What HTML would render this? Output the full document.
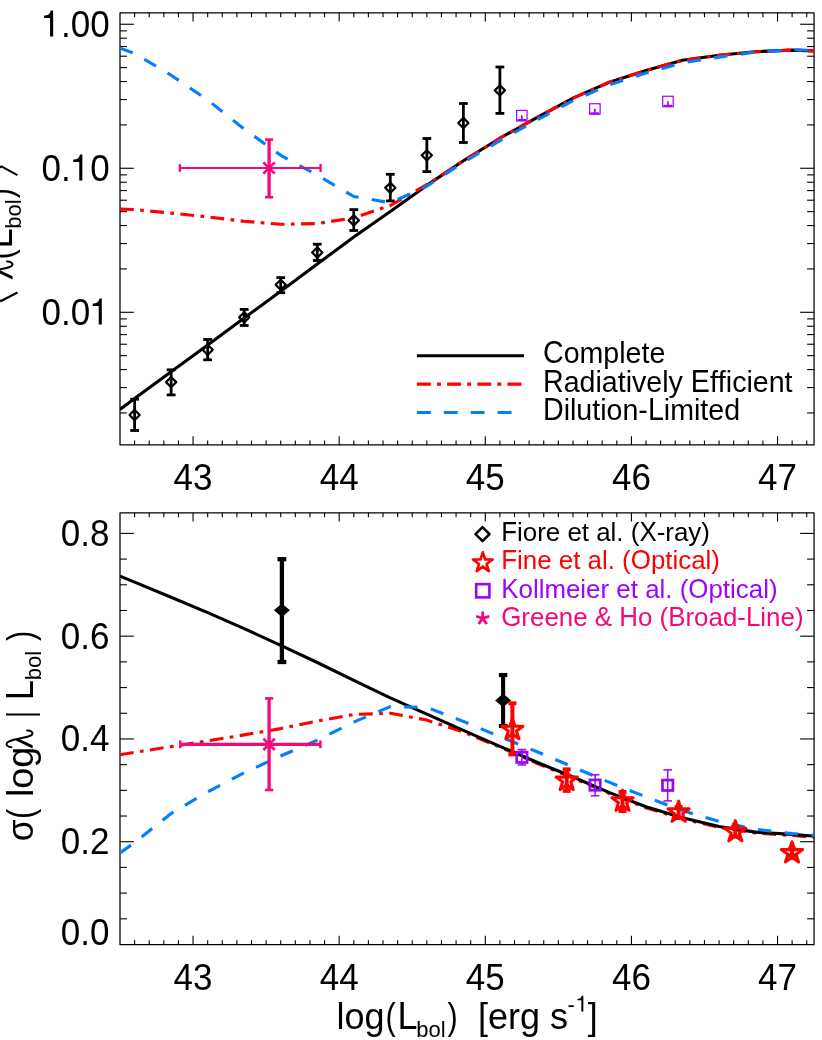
<!DOCTYPE html>
<html><head><meta charset="utf-8"><title>chart</title>
<style>
html,body{margin:0;padding:0;background:#fff;}
body{width:822px;height:1040px;overflow:hidden;font-family:"Liberation Sans",sans-serif;}
svg{display:block;will-change:transform;}
</style></head><body>
<svg width="822" height="1040" viewBox="0 0 822 1040">
<rect x="0" y="0" width="822" height="1040" fill="#fff"/>
<rect x="120.0" y="12.85" width="694.05" height="432.05" fill="none" stroke="#000" stroke-width="1.25" stroke-linejoin="round"/>
<line x1="134.61" y1="12.85" x2="134.61" y2="17.20" stroke="#000" stroke-width="1.1" />
<line x1="134.61" y1="444.90" x2="134.61" y2="440.55" stroke="#000" stroke-width="1.1" />
<line x1="149.22" y1="12.85" x2="149.22" y2="17.20" stroke="#000" stroke-width="1.1" />
<line x1="149.22" y1="444.90" x2="149.22" y2="440.55" stroke="#000" stroke-width="1.1" />
<line x1="163.83" y1="12.85" x2="163.83" y2="17.20" stroke="#000" stroke-width="1.1" />
<line x1="163.83" y1="444.90" x2="163.83" y2="440.55" stroke="#000" stroke-width="1.1" />
<line x1="178.45" y1="12.85" x2="178.45" y2="17.20" stroke="#000" stroke-width="1.1" />
<line x1="178.45" y1="444.90" x2="178.45" y2="440.55" stroke="#000" stroke-width="1.1" />
<line x1="193.06" y1="12.85" x2="193.06" y2="21.55" stroke="#000" stroke-width="1.1" />
<line x1="193.06" y1="444.90" x2="193.06" y2="436.20" stroke="#000" stroke-width="1.1" />
<line x1="207.67" y1="12.85" x2="207.67" y2="17.20" stroke="#000" stroke-width="1.1" />
<line x1="207.67" y1="444.90" x2="207.67" y2="440.55" stroke="#000" stroke-width="1.1" />
<line x1="222.28" y1="12.85" x2="222.28" y2="17.20" stroke="#000" stroke-width="1.1" />
<line x1="222.28" y1="444.90" x2="222.28" y2="440.55" stroke="#000" stroke-width="1.1" />
<line x1="236.89" y1="12.85" x2="236.89" y2="17.20" stroke="#000" stroke-width="1.1" />
<line x1="236.89" y1="444.90" x2="236.89" y2="440.55" stroke="#000" stroke-width="1.1" />
<line x1="251.50" y1="12.85" x2="251.50" y2="17.20" stroke="#000" stroke-width="1.1" />
<line x1="251.50" y1="444.90" x2="251.50" y2="440.55" stroke="#000" stroke-width="1.1" />
<line x1="266.12" y1="12.85" x2="266.12" y2="17.20" stroke="#000" stroke-width="1.1" />
<line x1="266.12" y1="444.90" x2="266.12" y2="440.55" stroke="#000" stroke-width="1.1" />
<line x1="280.73" y1="12.85" x2="280.73" y2="17.20" stroke="#000" stroke-width="1.1" />
<line x1="280.73" y1="444.90" x2="280.73" y2="440.55" stroke="#000" stroke-width="1.1" />
<line x1="295.34" y1="12.85" x2="295.34" y2="17.20" stroke="#000" stroke-width="1.1" />
<line x1="295.34" y1="444.90" x2="295.34" y2="440.55" stroke="#000" stroke-width="1.1" />
<line x1="309.95" y1="12.85" x2="309.95" y2="17.20" stroke="#000" stroke-width="1.1" />
<line x1="309.95" y1="444.90" x2="309.95" y2="440.55" stroke="#000" stroke-width="1.1" />
<line x1="324.56" y1="12.85" x2="324.56" y2="17.20" stroke="#000" stroke-width="1.1" />
<line x1="324.56" y1="444.90" x2="324.56" y2="440.55" stroke="#000" stroke-width="1.1" />
<line x1="339.17" y1="12.85" x2="339.17" y2="21.55" stroke="#000" stroke-width="1.1" />
<line x1="339.17" y1="444.90" x2="339.17" y2="436.20" stroke="#000" stroke-width="1.1" />
<line x1="353.79" y1="12.85" x2="353.79" y2="17.20" stroke="#000" stroke-width="1.1" />
<line x1="353.79" y1="444.90" x2="353.79" y2="440.55" stroke="#000" stroke-width="1.1" />
<line x1="368.40" y1="12.85" x2="368.40" y2="17.20" stroke="#000" stroke-width="1.1" />
<line x1="368.40" y1="444.90" x2="368.40" y2="440.55" stroke="#000" stroke-width="1.1" />
<line x1="383.01" y1="12.85" x2="383.01" y2="17.20" stroke="#000" stroke-width="1.1" />
<line x1="383.01" y1="444.90" x2="383.01" y2="440.55" stroke="#000" stroke-width="1.1" />
<line x1="397.62" y1="12.85" x2="397.62" y2="17.20" stroke="#000" stroke-width="1.1" />
<line x1="397.62" y1="444.90" x2="397.62" y2="440.55" stroke="#000" stroke-width="1.1" />
<line x1="412.23" y1="12.85" x2="412.23" y2="17.20" stroke="#000" stroke-width="1.1" />
<line x1="412.23" y1="444.90" x2="412.23" y2="440.55" stroke="#000" stroke-width="1.1" />
<line x1="426.84" y1="12.85" x2="426.84" y2="17.20" stroke="#000" stroke-width="1.1" />
<line x1="426.84" y1="444.90" x2="426.84" y2="440.55" stroke="#000" stroke-width="1.1" />
<line x1="441.45" y1="12.85" x2="441.45" y2="17.20" stroke="#000" stroke-width="1.1" />
<line x1="441.45" y1="444.90" x2="441.45" y2="440.55" stroke="#000" stroke-width="1.1" />
<line x1="456.07" y1="12.85" x2="456.07" y2="17.20" stroke="#000" stroke-width="1.1" />
<line x1="456.07" y1="444.90" x2="456.07" y2="440.55" stroke="#000" stroke-width="1.1" />
<line x1="470.68" y1="12.85" x2="470.68" y2="17.20" stroke="#000" stroke-width="1.1" />
<line x1="470.68" y1="444.90" x2="470.68" y2="440.55" stroke="#000" stroke-width="1.1" />
<line x1="485.29" y1="12.85" x2="485.29" y2="21.55" stroke="#000" stroke-width="1.1" />
<line x1="485.29" y1="444.90" x2="485.29" y2="436.20" stroke="#000" stroke-width="1.1" />
<line x1="499.90" y1="12.85" x2="499.90" y2="17.20" stroke="#000" stroke-width="1.1" />
<line x1="499.90" y1="444.90" x2="499.90" y2="440.55" stroke="#000" stroke-width="1.1" />
<line x1="514.51" y1="12.85" x2="514.51" y2="17.20" stroke="#000" stroke-width="1.1" />
<line x1="514.51" y1="444.90" x2="514.51" y2="440.55" stroke="#000" stroke-width="1.1" />
<line x1="529.12" y1="12.85" x2="529.12" y2="17.20" stroke="#000" stroke-width="1.1" />
<line x1="529.12" y1="444.90" x2="529.12" y2="440.55" stroke="#000" stroke-width="1.1" />
<line x1="543.74" y1="12.85" x2="543.74" y2="17.20" stroke="#000" stroke-width="1.1" />
<line x1="543.74" y1="444.90" x2="543.74" y2="440.55" stroke="#000" stroke-width="1.1" />
<line x1="558.35" y1="12.85" x2="558.35" y2="17.20" stroke="#000" stroke-width="1.1" />
<line x1="558.35" y1="444.90" x2="558.35" y2="440.55" stroke="#000" stroke-width="1.1" />
<line x1="572.96" y1="12.85" x2="572.96" y2="17.20" stroke="#000" stroke-width="1.1" />
<line x1="572.96" y1="444.90" x2="572.96" y2="440.55" stroke="#000" stroke-width="1.1" />
<line x1="587.57" y1="12.85" x2="587.57" y2="17.20" stroke="#000" stroke-width="1.1" />
<line x1="587.57" y1="444.90" x2="587.57" y2="440.55" stroke="#000" stroke-width="1.1" />
<line x1="602.18" y1="12.85" x2="602.18" y2="17.20" stroke="#000" stroke-width="1.1" />
<line x1="602.18" y1="444.90" x2="602.18" y2="440.55" stroke="#000" stroke-width="1.1" />
<line x1="616.79" y1="12.85" x2="616.79" y2="17.20" stroke="#000" stroke-width="1.1" />
<line x1="616.79" y1="444.90" x2="616.79" y2="440.55" stroke="#000" stroke-width="1.1" />
<line x1="631.41" y1="12.85" x2="631.41" y2="21.55" stroke="#000" stroke-width="1.1" />
<line x1="631.41" y1="444.90" x2="631.41" y2="436.20" stroke="#000" stroke-width="1.1" />
<line x1="646.02" y1="12.85" x2="646.02" y2="17.20" stroke="#000" stroke-width="1.1" />
<line x1="646.02" y1="444.90" x2="646.02" y2="440.55" stroke="#000" stroke-width="1.1" />
<line x1="660.63" y1="12.85" x2="660.63" y2="17.20" stroke="#000" stroke-width="1.1" />
<line x1="660.63" y1="444.90" x2="660.63" y2="440.55" stroke="#000" stroke-width="1.1" />
<line x1="675.24" y1="12.85" x2="675.24" y2="17.20" stroke="#000" stroke-width="1.1" />
<line x1="675.24" y1="444.90" x2="675.24" y2="440.55" stroke="#000" stroke-width="1.1" />
<line x1="689.85" y1="12.85" x2="689.85" y2="17.20" stroke="#000" stroke-width="1.1" />
<line x1="689.85" y1="444.90" x2="689.85" y2="440.55" stroke="#000" stroke-width="1.1" />
<line x1="704.46" y1="12.85" x2="704.46" y2="17.20" stroke="#000" stroke-width="1.1" />
<line x1="704.46" y1="444.90" x2="704.46" y2="440.55" stroke="#000" stroke-width="1.1" />
<line x1="719.07" y1="12.85" x2="719.07" y2="17.20" stroke="#000" stroke-width="1.1" />
<line x1="719.07" y1="444.90" x2="719.07" y2="440.55" stroke="#000" stroke-width="1.1" />
<line x1="733.69" y1="12.85" x2="733.69" y2="17.20" stroke="#000" stroke-width="1.1" />
<line x1="733.69" y1="444.90" x2="733.69" y2="440.55" stroke="#000" stroke-width="1.1" />
<line x1="748.30" y1="12.85" x2="748.30" y2="17.20" stroke="#000" stroke-width="1.1" />
<line x1="748.30" y1="444.90" x2="748.30" y2="440.55" stroke="#000" stroke-width="1.1" />
<line x1="762.91" y1="12.85" x2="762.91" y2="17.20" stroke="#000" stroke-width="1.1" />
<line x1="762.91" y1="444.90" x2="762.91" y2="440.55" stroke="#000" stroke-width="1.1" />
<line x1="777.52" y1="12.85" x2="777.52" y2="21.55" stroke="#000" stroke-width="1.1" />
<line x1="777.52" y1="444.90" x2="777.52" y2="436.20" stroke="#000" stroke-width="1.1" />
<line x1="792.13" y1="12.85" x2="792.13" y2="17.20" stroke="#000" stroke-width="1.1" />
<line x1="792.13" y1="444.90" x2="792.13" y2="440.55" stroke="#000" stroke-width="1.1" />
<line x1="806.74" y1="12.85" x2="806.74" y2="17.20" stroke="#000" stroke-width="1.1" />
<line x1="806.74" y1="444.90" x2="806.74" y2="440.55" stroke="#000" stroke-width="1.1" />
<line x1="120.00" y1="24.25" x2="133.90" y2="24.25" stroke="#000" stroke-width="1.1" />
<line x1="814.05" y1="24.25" x2="800.15" y2="24.25" stroke="#000" stroke-width="1.1" />
<line x1="120.00" y1="168.27" x2="133.90" y2="168.27" stroke="#000" stroke-width="1.1" />
<line x1="814.05" y1="168.27" x2="800.15" y2="168.27" stroke="#000" stroke-width="1.1" />
<line x1="120.00" y1="124.92" x2="126.95" y2="124.92" stroke="#000" stroke-width="1.1" />
<line x1="814.05" y1="124.92" x2="807.10" y2="124.92" stroke="#000" stroke-width="1.1" />
<line x1="120.00" y1="99.56" x2="126.95" y2="99.56" stroke="#000" stroke-width="1.1" />
<line x1="814.05" y1="99.56" x2="807.10" y2="99.56" stroke="#000" stroke-width="1.1" />
<line x1="120.00" y1="81.56" x2="126.95" y2="81.56" stroke="#000" stroke-width="1.1" />
<line x1="814.05" y1="81.56" x2="807.10" y2="81.56" stroke="#000" stroke-width="1.1" />
<line x1="120.00" y1="67.61" x2="126.95" y2="67.61" stroke="#000" stroke-width="1.1" />
<line x1="814.05" y1="67.61" x2="807.10" y2="67.61" stroke="#000" stroke-width="1.1" />
<line x1="120.00" y1="56.20" x2="126.95" y2="56.20" stroke="#000" stroke-width="1.1" />
<line x1="814.05" y1="56.20" x2="807.10" y2="56.20" stroke="#000" stroke-width="1.1" />
<line x1="120.00" y1="46.56" x2="126.95" y2="46.56" stroke="#000" stroke-width="1.1" />
<line x1="814.05" y1="46.56" x2="807.10" y2="46.56" stroke="#000" stroke-width="1.1" />
<line x1="120.00" y1="38.21" x2="126.95" y2="38.21" stroke="#000" stroke-width="1.1" />
<line x1="814.05" y1="38.21" x2="807.10" y2="38.21" stroke="#000" stroke-width="1.1" />
<line x1="120.00" y1="30.84" x2="126.95" y2="30.84" stroke="#000" stroke-width="1.1" />
<line x1="814.05" y1="30.84" x2="807.10" y2="30.84" stroke="#000" stroke-width="1.1" />
<line x1="120.00" y1="312.29" x2="133.90" y2="312.29" stroke="#000" stroke-width="1.1" />
<line x1="814.05" y1="312.29" x2="800.15" y2="312.29" stroke="#000" stroke-width="1.1" />
<line x1="120.00" y1="268.93" x2="126.95" y2="268.93" stroke="#000" stroke-width="1.1" />
<line x1="814.05" y1="268.93" x2="807.10" y2="268.93" stroke="#000" stroke-width="1.1" />
<line x1="120.00" y1="243.57" x2="126.95" y2="243.57" stroke="#000" stroke-width="1.1" />
<line x1="814.05" y1="243.57" x2="807.10" y2="243.57" stroke="#000" stroke-width="1.1" />
<line x1="120.00" y1="225.58" x2="126.95" y2="225.58" stroke="#000" stroke-width="1.1" />
<line x1="814.05" y1="225.58" x2="807.10" y2="225.58" stroke="#000" stroke-width="1.1" />
<line x1="120.00" y1="211.62" x2="126.95" y2="211.62" stroke="#000" stroke-width="1.1" />
<line x1="814.05" y1="211.62" x2="807.10" y2="211.62" stroke="#000" stroke-width="1.1" />
<line x1="120.00" y1="200.22" x2="126.95" y2="200.22" stroke="#000" stroke-width="1.1" />
<line x1="814.05" y1="200.22" x2="807.10" y2="200.22" stroke="#000" stroke-width="1.1" />
<line x1="120.00" y1="190.58" x2="126.95" y2="190.58" stroke="#000" stroke-width="1.1" />
<line x1="814.05" y1="190.58" x2="807.10" y2="190.58" stroke="#000" stroke-width="1.1" />
<line x1="120.00" y1="182.23" x2="126.95" y2="182.23" stroke="#000" stroke-width="1.1" />
<line x1="814.05" y1="182.23" x2="807.10" y2="182.23" stroke="#000" stroke-width="1.1" />
<line x1="120.00" y1="174.86" x2="126.95" y2="174.86" stroke="#000" stroke-width="1.1" />
<line x1="814.05" y1="174.86" x2="807.10" y2="174.86" stroke="#000" stroke-width="1.1" />
<line x1="120.00" y1="412.95" x2="126.95" y2="412.95" stroke="#000" stroke-width="1.1" />
<line x1="814.05" y1="412.95" x2="807.10" y2="412.95" stroke="#000" stroke-width="1.1" />
<line x1="120.00" y1="387.59" x2="126.95" y2="387.59" stroke="#000" stroke-width="1.1" />
<line x1="814.05" y1="387.59" x2="807.10" y2="387.59" stroke="#000" stroke-width="1.1" />
<line x1="120.00" y1="369.60" x2="126.95" y2="369.60" stroke="#000" stroke-width="1.1" />
<line x1="814.05" y1="369.60" x2="807.10" y2="369.60" stroke="#000" stroke-width="1.1" />
<line x1="120.00" y1="355.64" x2="126.95" y2="355.64" stroke="#000" stroke-width="1.1" />
<line x1="814.05" y1="355.64" x2="807.10" y2="355.64" stroke="#000" stroke-width="1.1" />
<line x1="120.00" y1="344.24" x2="126.95" y2="344.24" stroke="#000" stroke-width="1.1" />
<line x1="814.05" y1="344.24" x2="807.10" y2="344.24" stroke="#000" stroke-width="1.1" />
<line x1="120.00" y1="334.60" x2="126.95" y2="334.60" stroke="#000" stroke-width="1.1" />
<line x1="814.05" y1="334.60" x2="807.10" y2="334.60" stroke="#000" stroke-width="1.1" />
<line x1="120.00" y1="326.24" x2="126.95" y2="326.24" stroke="#000" stroke-width="1.1" />
<line x1="814.05" y1="326.24" x2="807.10" y2="326.24" stroke="#000" stroke-width="1.1" />
<line x1="120.00" y1="318.88" x2="126.95" y2="318.88" stroke="#000" stroke-width="1.1" />
<line x1="814.05" y1="318.88" x2="807.10" y2="318.88" stroke="#000" stroke-width="1.1" />
<rect x="120.0" y="512.85" width="694.05" height="431.65" fill="none" stroke="#000" stroke-width="1.25" stroke-linejoin="round"/>
<line x1="134.61" y1="512.85" x2="134.61" y2="517.20" stroke="#000" stroke-width="1.1" />
<line x1="134.61" y1="944.50" x2="134.61" y2="940.15" stroke="#000" stroke-width="1.1" />
<line x1="149.22" y1="512.85" x2="149.22" y2="517.20" stroke="#000" stroke-width="1.1" />
<line x1="149.22" y1="944.50" x2="149.22" y2="940.15" stroke="#000" stroke-width="1.1" />
<line x1="163.83" y1="512.85" x2="163.83" y2="517.20" stroke="#000" stroke-width="1.1" />
<line x1="163.83" y1="944.50" x2="163.83" y2="940.15" stroke="#000" stroke-width="1.1" />
<line x1="178.45" y1="512.85" x2="178.45" y2="517.20" stroke="#000" stroke-width="1.1" />
<line x1="178.45" y1="944.50" x2="178.45" y2="940.15" stroke="#000" stroke-width="1.1" />
<line x1="193.06" y1="512.85" x2="193.06" y2="521.55" stroke="#000" stroke-width="1.1" />
<line x1="193.06" y1="944.50" x2="193.06" y2="935.80" stroke="#000" stroke-width="1.1" />
<line x1="207.67" y1="512.85" x2="207.67" y2="517.20" stroke="#000" stroke-width="1.1" />
<line x1="207.67" y1="944.50" x2="207.67" y2="940.15" stroke="#000" stroke-width="1.1" />
<line x1="222.28" y1="512.85" x2="222.28" y2="517.20" stroke="#000" stroke-width="1.1" />
<line x1="222.28" y1="944.50" x2="222.28" y2="940.15" stroke="#000" stroke-width="1.1" />
<line x1="236.89" y1="512.85" x2="236.89" y2="517.20" stroke="#000" stroke-width="1.1" />
<line x1="236.89" y1="944.50" x2="236.89" y2="940.15" stroke="#000" stroke-width="1.1" />
<line x1="251.50" y1="512.85" x2="251.50" y2="517.20" stroke="#000" stroke-width="1.1" />
<line x1="251.50" y1="944.50" x2="251.50" y2="940.15" stroke="#000" stroke-width="1.1" />
<line x1="266.12" y1="512.85" x2="266.12" y2="517.20" stroke="#000" stroke-width="1.1" />
<line x1="266.12" y1="944.50" x2="266.12" y2="940.15" stroke="#000" stroke-width="1.1" />
<line x1="280.73" y1="512.85" x2="280.73" y2="517.20" stroke="#000" stroke-width="1.1" />
<line x1="280.73" y1="944.50" x2="280.73" y2="940.15" stroke="#000" stroke-width="1.1" />
<line x1="295.34" y1="512.85" x2="295.34" y2="517.20" stroke="#000" stroke-width="1.1" />
<line x1="295.34" y1="944.50" x2="295.34" y2="940.15" stroke="#000" stroke-width="1.1" />
<line x1="309.95" y1="512.85" x2="309.95" y2="517.20" stroke="#000" stroke-width="1.1" />
<line x1="309.95" y1="944.50" x2="309.95" y2="940.15" stroke="#000" stroke-width="1.1" />
<line x1="324.56" y1="512.85" x2="324.56" y2="517.20" stroke="#000" stroke-width="1.1" />
<line x1="324.56" y1="944.50" x2="324.56" y2="940.15" stroke="#000" stroke-width="1.1" />
<line x1="339.17" y1="512.85" x2="339.17" y2="521.55" stroke="#000" stroke-width="1.1" />
<line x1="339.17" y1="944.50" x2="339.17" y2="935.80" stroke="#000" stroke-width="1.1" />
<line x1="353.79" y1="512.85" x2="353.79" y2="517.20" stroke="#000" stroke-width="1.1" />
<line x1="353.79" y1="944.50" x2="353.79" y2="940.15" stroke="#000" stroke-width="1.1" />
<line x1="368.40" y1="512.85" x2="368.40" y2="517.20" stroke="#000" stroke-width="1.1" />
<line x1="368.40" y1="944.50" x2="368.40" y2="940.15" stroke="#000" stroke-width="1.1" />
<line x1="383.01" y1="512.85" x2="383.01" y2="517.20" stroke="#000" stroke-width="1.1" />
<line x1="383.01" y1="944.50" x2="383.01" y2="940.15" stroke="#000" stroke-width="1.1" />
<line x1="397.62" y1="512.85" x2="397.62" y2="517.20" stroke="#000" stroke-width="1.1" />
<line x1="397.62" y1="944.50" x2="397.62" y2="940.15" stroke="#000" stroke-width="1.1" />
<line x1="412.23" y1="512.85" x2="412.23" y2="517.20" stroke="#000" stroke-width="1.1" />
<line x1="412.23" y1="944.50" x2="412.23" y2="940.15" stroke="#000" stroke-width="1.1" />
<line x1="426.84" y1="512.85" x2="426.84" y2="517.20" stroke="#000" stroke-width="1.1" />
<line x1="426.84" y1="944.50" x2="426.84" y2="940.15" stroke="#000" stroke-width="1.1" />
<line x1="441.45" y1="512.85" x2="441.45" y2="517.20" stroke="#000" stroke-width="1.1" />
<line x1="441.45" y1="944.50" x2="441.45" y2="940.15" stroke="#000" stroke-width="1.1" />
<line x1="456.07" y1="512.85" x2="456.07" y2="517.20" stroke="#000" stroke-width="1.1" />
<line x1="456.07" y1="944.50" x2="456.07" y2="940.15" stroke="#000" stroke-width="1.1" />
<line x1="470.68" y1="512.85" x2="470.68" y2="517.20" stroke="#000" stroke-width="1.1" />
<line x1="470.68" y1="944.50" x2="470.68" y2="940.15" stroke="#000" stroke-width="1.1" />
<line x1="485.29" y1="512.85" x2="485.29" y2="521.55" stroke="#000" stroke-width="1.1" />
<line x1="485.29" y1="944.50" x2="485.29" y2="935.80" stroke="#000" stroke-width="1.1" />
<line x1="499.90" y1="512.85" x2="499.90" y2="517.20" stroke="#000" stroke-width="1.1" />
<line x1="499.90" y1="944.50" x2="499.90" y2="940.15" stroke="#000" stroke-width="1.1" />
<line x1="514.51" y1="512.85" x2="514.51" y2="517.20" stroke="#000" stroke-width="1.1" />
<line x1="514.51" y1="944.50" x2="514.51" y2="940.15" stroke="#000" stroke-width="1.1" />
<line x1="529.12" y1="512.85" x2="529.12" y2="517.20" stroke="#000" stroke-width="1.1" />
<line x1="529.12" y1="944.50" x2="529.12" y2="940.15" stroke="#000" stroke-width="1.1" />
<line x1="543.74" y1="512.85" x2="543.74" y2="517.20" stroke="#000" stroke-width="1.1" />
<line x1="543.74" y1="944.50" x2="543.74" y2="940.15" stroke="#000" stroke-width="1.1" />
<line x1="558.35" y1="512.85" x2="558.35" y2="517.20" stroke="#000" stroke-width="1.1" />
<line x1="558.35" y1="944.50" x2="558.35" y2="940.15" stroke="#000" stroke-width="1.1" />
<line x1="572.96" y1="512.85" x2="572.96" y2="517.20" stroke="#000" stroke-width="1.1" />
<line x1="572.96" y1="944.50" x2="572.96" y2="940.15" stroke="#000" stroke-width="1.1" />
<line x1="587.57" y1="512.85" x2="587.57" y2="517.20" stroke="#000" stroke-width="1.1" />
<line x1="587.57" y1="944.50" x2="587.57" y2="940.15" stroke="#000" stroke-width="1.1" />
<line x1="602.18" y1="512.85" x2="602.18" y2="517.20" stroke="#000" stroke-width="1.1" />
<line x1="602.18" y1="944.50" x2="602.18" y2="940.15" stroke="#000" stroke-width="1.1" />
<line x1="616.79" y1="512.85" x2="616.79" y2="517.20" stroke="#000" stroke-width="1.1" />
<line x1="616.79" y1="944.50" x2="616.79" y2="940.15" stroke="#000" stroke-width="1.1" />
<line x1="631.41" y1="512.85" x2="631.41" y2="521.55" stroke="#000" stroke-width="1.1" />
<line x1="631.41" y1="944.50" x2="631.41" y2="935.80" stroke="#000" stroke-width="1.1" />
<line x1="646.02" y1="512.85" x2="646.02" y2="517.20" stroke="#000" stroke-width="1.1" />
<line x1="646.02" y1="944.50" x2="646.02" y2="940.15" stroke="#000" stroke-width="1.1" />
<line x1="660.63" y1="512.85" x2="660.63" y2="517.20" stroke="#000" stroke-width="1.1" />
<line x1="660.63" y1="944.50" x2="660.63" y2="940.15" stroke="#000" stroke-width="1.1" />
<line x1="675.24" y1="512.85" x2="675.24" y2="517.20" stroke="#000" stroke-width="1.1" />
<line x1="675.24" y1="944.50" x2="675.24" y2="940.15" stroke="#000" stroke-width="1.1" />
<line x1="689.85" y1="512.85" x2="689.85" y2="517.20" stroke="#000" stroke-width="1.1" />
<line x1="689.85" y1="944.50" x2="689.85" y2="940.15" stroke="#000" stroke-width="1.1" />
<line x1="704.46" y1="512.85" x2="704.46" y2="517.20" stroke="#000" stroke-width="1.1" />
<line x1="704.46" y1="944.50" x2="704.46" y2="940.15" stroke="#000" stroke-width="1.1" />
<line x1="719.07" y1="512.85" x2="719.07" y2="517.20" stroke="#000" stroke-width="1.1" />
<line x1="719.07" y1="944.50" x2="719.07" y2="940.15" stroke="#000" stroke-width="1.1" />
<line x1="733.69" y1="512.85" x2="733.69" y2="517.20" stroke="#000" stroke-width="1.1" />
<line x1="733.69" y1="944.50" x2="733.69" y2="940.15" stroke="#000" stroke-width="1.1" />
<line x1="748.30" y1="512.85" x2="748.30" y2="517.20" stroke="#000" stroke-width="1.1" />
<line x1="748.30" y1="944.50" x2="748.30" y2="940.15" stroke="#000" stroke-width="1.1" />
<line x1="762.91" y1="512.85" x2="762.91" y2="517.20" stroke="#000" stroke-width="1.1" />
<line x1="762.91" y1="944.50" x2="762.91" y2="940.15" stroke="#000" stroke-width="1.1" />
<line x1="777.52" y1="512.85" x2="777.52" y2="521.55" stroke="#000" stroke-width="1.1" />
<line x1="777.52" y1="944.50" x2="777.52" y2="935.80" stroke="#000" stroke-width="1.1" />
<line x1="792.13" y1="512.85" x2="792.13" y2="517.20" stroke="#000" stroke-width="1.1" />
<line x1="792.13" y1="944.50" x2="792.13" y2="940.15" stroke="#000" stroke-width="1.1" />
<line x1="806.74" y1="512.85" x2="806.74" y2="517.20" stroke="#000" stroke-width="1.1" />
<line x1="806.74" y1="944.50" x2="806.74" y2="940.15" stroke="#000" stroke-width="1.1" />
<line x1="120.00" y1="918.81" x2="126.95" y2="918.81" stroke="#000" stroke-width="1.1" />
<line x1="814.05" y1="918.81" x2="807.10" y2="918.81" stroke="#000" stroke-width="1.1" />
<line x1="120.00" y1="893.11" x2="126.95" y2="893.11" stroke="#000" stroke-width="1.1" />
<line x1="814.05" y1="893.11" x2="807.10" y2="893.11" stroke="#000" stroke-width="1.1" />
<line x1="120.00" y1="867.42" x2="126.95" y2="867.42" stroke="#000" stroke-width="1.1" />
<line x1="814.05" y1="867.42" x2="807.10" y2="867.42" stroke="#000" stroke-width="1.1" />
<line x1="120.00" y1="841.73" x2="133.90" y2="841.73" stroke="#000" stroke-width="1.1" />
<line x1="814.05" y1="841.73" x2="800.15" y2="841.73" stroke="#000" stroke-width="1.1" />
<line x1="120.00" y1="816.03" x2="126.95" y2="816.03" stroke="#000" stroke-width="1.1" />
<line x1="814.05" y1="816.03" x2="807.10" y2="816.03" stroke="#000" stroke-width="1.1" />
<line x1="120.00" y1="790.34" x2="126.95" y2="790.34" stroke="#000" stroke-width="1.1" />
<line x1="814.05" y1="790.34" x2="807.10" y2="790.34" stroke="#000" stroke-width="1.1" />
<line x1="120.00" y1="764.65" x2="126.95" y2="764.65" stroke="#000" stroke-width="1.1" />
<line x1="814.05" y1="764.65" x2="807.10" y2="764.65" stroke="#000" stroke-width="1.1" />
<line x1="120.00" y1="738.95" x2="133.90" y2="738.95" stroke="#000" stroke-width="1.1" />
<line x1="814.05" y1="738.95" x2="800.15" y2="738.95" stroke="#000" stroke-width="1.1" />
<line x1="120.00" y1="713.26" x2="126.95" y2="713.26" stroke="#000" stroke-width="1.1" />
<line x1="814.05" y1="713.26" x2="807.10" y2="713.26" stroke="#000" stroke-width="1.1" />
<line x1="120.00" y1="687.57" x2="126.95" y2="687.57" stroke="#000" stroke-width="1.1" />
<line x1="814.05" y1="687.57" x2="807.10" y2="687.57" stroke="#000" stroke-width="1.1" />
<line x1="120.00" y1="661.87" x2="126.95" y2="661.87" stroke="#000" stroke-width="1.1" />
<line x1="814.05" y1="661.87" x2="807.10" y2="661.87" stroke="#000" stroke-width="1.1" />
<line x1="120.00" y1="636.18" x2="133.90" y2="636.18" stroke="#000" stroke-width="1.1" />
<line x1="814.05" y1="636.18" x2="800.15" y2="636.18" stroke="#000" stroke-width="1.1" />
<line x1="120.00" y1="610.49" x2="126.95" y2="610.49" stroke="#000" stroke-width="1.1" />
<line x1="814.05" y1="610.49" x2="807.10" y2="610.49" stroke="#000" stroke-width="1.1" />
<line x1="120.00" y1="584.79" x2="126.95" y2="584.79" stroke="#000" stroke-width="1.1" />
<line x1="814.05" y1="584.79" x2="807.10" y2="584.79" stroke="#000" stroke-width="1.1" />
<line x1="120.00" y1="559.10" x2="126.95" y2="559.10" stroke="#000" stroke-width="1.1" />
<line x1="814.05" y1="559.10" x2="807.10" y2="559.10" stroke="#000" stroke-width="1.1" />
<line x1="120.00" y1="533.40" x2="133.90" y2="533.40" stroke="#000" stroke-width="1.1" />
<line x1="814.05" y1="533.40" x2="800.15" y2="533.40" stroke="#000" stroke-width="1.1" />
<path transform="translate(40.59,36.40) scale(0.03500,-0.03689)" d="M271,0 V502 H101 V565 c94,0 172,32 189,138 h69 V0 z" fill="#000"/>
<text transform="translate(60.95,36.60) scale(1.0,1.07)" font-size="35" text-anchor="start" fill="#000" font-family="Liberation Sans, sans-serif">.00</text>
<text transform="translate(41.49,180.62) scale(1.0,1.07)" font-size="35" text-anchor="start" fill="#000" font-family="Liberation Sans, sans-serif">0.</text>
<path transform="translate(69.78,180.42) scale(0.03500,-0.03689)" d="M271,0 V502 H101 V565 c94,0 172,32 189,138 h69 V0 z" fill="#000"/>
<text transform="translate(90.14,180.62) scale(1.0,1.07)" font-size="35" text-anchor="start" fill="#000" font-family="Liberation Sans, sans-serif">0</text>
<text transform="translate(41.49,324.64) scale(1.0,1.07)" font-size="35" text-anchor="start" fill="#000" font-family="Liberation Sans, sans-serif">0.0</text>
<path transform="translate(89.24,324.44) scale(0.03500,-0.03689)" d="M271,0 V502 H101 V565 c94,0 172,32 189,138 h69 V0 z" fill="#000"/>
<text transform="translate(109.50,545.75) scale(1,1.07)" font-size="35" text-anchor="end" fill="#000" font-family="Liberation Sans, sans-serif" >0.8</text>
<text transform="translate(109.50,648.53) scale(1,1.07)" font-size="35" text-anchor="end" fill="#000" font-family="Liberation Sans, sans-serif" >0.6</text>
<text transform="translate(109.50,751.30) scale(1,1.07)" font-size="35" text-anchor="end" fill="#000" font-family="Liberation Sans, sans-serif" >0.4</text>
<text transform="translate(109.50,854.08) scale(1,1.07)" font-size="35" text-anchor="end" fill="#000" font-family="Liberation Sans, sans-serif" >0.2</text>
<text transform="translate(109.50,944.60) scale(1,1.07)" font-size="35" text-anchor="end" fill="#000" font-family="Liberation Sans, sans-serif" >0.0</text>
<text transform="translate(193.06,489.90) scale(1,1.07)" font-size="35" text-anchor="middle" fill="#000" font-family="Liberation Sans, sans-serif" >43</text>
<text transform="translate(193.06,989.50) scale(1,1.07)" font-size="35" text-anchor="middle" fill="#000" font-family="Liberation Sans, sans-serif" >43</text>
<text transform="translate(339.17,489.90) scale(1,1.07)" font-size="35" text-anchor="middle" fill="#000" font-family="Liberation Sans, sans-serif" >44</text>
<text transform="translate(339.17,989.50) scale(1,1.07)" font-size="35" text-anchor="middle" fill="#000" font-family="Liberation Sans, sans-serif" >44</text>
<text transform="translate(485.29,489.90) scale(1,1.07)" font-size="35" text-anchor="middle" fill="#000" font-family="Liberation Sans, sans-serif" >45</text>
<text transform="translate(485.29,989.50) scale(1,1.07)" font-size="35" text-anchor="middle" fill="#000" font-family="Liberation Sans, sans-serif" >45</text>
<text transform="translate(631.41,489.90) scale(1,1.07)" font-size="35" text-anchor="middle" fill="#000" font-family="Liberation Sans, sans-serif" >46</text>
<text transform="translate(631.41,989.50) scale(1,1.07)" font-size="35" text-anchor="middle" fill="#000" font-family="Liberation Sans, sans-serif" >46</text>
<text transform="translate(777.52,489.90) scale(1,1.07)" font-size="35" text-anchor="middle" fill="#000" font-family="Liberation Sans, sans-serif" >47</text>
<text transform="translate(777.52,989.50) scale(1,1.07)" font-size="35" text-anchor="middle" fill="#000" font-family="Liberation Sans, sans-serif" >47</text>
<clipPath id="c1"><rect x="120.0" y="12.85" width="694.05" height="432.05"/></clipPath>
<clipPath id="c2"><rect x="120.0" y="512.85" width="694.05" height="431.65"/></clipPath>
<g clip-path="url(#c1)">
<polyline points="120.0,409.4 134.6,398.6 171.1,371.7 207.7,344.9 244.2,318.0 280.7,291.2 317.3,264.0 353.8,237.1 390.3,211.6 426.8,185.4 463.4,160.8 499.9,138.2 536.4,117.8 573.0,98.2 609.5,82.2 646.0,70.5 682.5,60.2 719.1,55.3 755.6,51.7 792.1,50.1 828.7,51.5" fill="none" stroke="#000" stroke-width="3.1"  stroke-linejoin="round" />
<polyline points="120.0,209.1 134.6,209.6 171.1,213.1 207.7,216.9 244.2,221.3 280.7,224.3 317.3,223.6 353.8,217.8 390.3,205.5 426.8,184.6 463.4,160.9 499.9,138.2 536.4,117.8 573.0,98.2 609.5,82.2 646.0,70.5 682.5,60.3 719.1,55.3 755.6,51.7 792.1,50.1 828.7,51.4" fill="none" stroke="#ff0000" stroke-width="3.1" stroke-dasharray="13.8 6.4 3.7 6.4" stroke-linejoin="round" />
<polyline points="120.0,48.1 134.6,53.5 171.1,75.2 207.7,100.0 244.2,129.1 280.7,155.3 317.3,175.2 353.8,196.5 390.3,202.8 426.8,186.2 463.4,162.4 499.9,140.7 536.4,120.3 573.0,100.7 609.5,84.7 646.0,73.1 682.5,62.8 719.1,57.1 755.6,52.1 792.1,49.7 828.7,51.0" fill="none" stroke="#007fff" stroke-width="3.1" stroke-dasharray="13.5 13.4" stroke-linejoin="round" />
</g>
<line x1="134.61" y1="399.20" x2="134.61" y2="430.50" stroke="#000" stroke-width="2.8" />
<line x1="130.21" y1="399.20" x2="139.01" y2="399.20" stroke="#000" stroke-width="2.8" />
<line x1="130.21" y1="430.50" x2="139.01" y2="430.50" stroke="#000" stroke-width="2.8" />
<polygon points="129.51,415.00 134.61,409.90 139.71,415.00 134.61,420.10" fill="none" stroke="#000" stroke-width="2.2" stroke-linejoin="round"/>
<line x1="171.14" y1="369.80" x2="171.14" y2="394.90" stroke="#000" stroke-width="2.8" />
<line x1="166.74" y1="369.80" x2="175.54" y2="369.80" stroke="#000" stroke-width="2.8" />
<line x1="166.74" y1="394.90" x2="175.54" y2="394.90" stroke="#000" stroke-width="2.8" />
<polygon points="166.04,382.10 171.14,377.00 176.24,382.10 171.14,387.20" fill="none" stroke="#000" stroke-width="2.2" stroke-linejoin="round"/>
<line x1="207.67" y1="339.50" x2="207.67" y2="359.80" stroke="#000" stroke-width="2.8" />
<line x1="203.27" y1="339.50" x2="212.07" y2="339.50" stroke="#000" stroke-width="2.8" />
<line x1="203.27" y1="359.80" x2="212.07" y2="359.80" stroke="#000" stroke-width="2.8" />
<polygon points="202.57,349.80 207.67,344.70 212.77,349.80 207.67,354.90" fill="none" stroke="#000" stroke-width="2.2" stroke-linejoin="round"/>
<line x1="244.20" y1="309.40" x2="244.20" y2="325.50" stroke="#000" stroke-width="2.8" />
<line x1="239.80" y1="309.40" x2="248.60" y2="309.40" stroke="#000" stroke-width="2.8" />
<line x1="239.80" y1="325.50" x2="248.60" y2="325.50" stroke="#000" stroke-width="2.8" />
<polygon points="239.10,317.40 244.20,312.30 249.30,317.40 244.20,322.50" fill="none" stroke="#000" stroke-width="2.2" stroke-linejoin="round"/>
<line x1="280.73" y1="277.60" x2="280.73" y2="292.70" stroke="#000" stroke-width="2.8" />
<line x1="276.33" y1="277.60" x2="285.13" y2="277.60" stroke="#000" stroke-width="2.8" />
<line x1="276.33" y1="292.70" x2="285.13" y2="292.70" stroke="#000" stroke-width="2.8" />
<polygon points="275.63,284.80 280.73,279.70 285.83,284.80 280.73,289.90" fill="none" stroke="#000" stroke-width="2.2" stroke-linejoin="round"/>
<line x1="317.26" y1="244.20" x2="317.26" y2="260.50" stroke="#000" stroke-width="2.8" />
<line x1="312.86" y1="244.20" x2="321.66" y2="244.20" stroke="#000" stroke-width="2.8" />
<line x1="312.86" y1="260.50" x2="321.66" y2="260.50" stroke="#000" stroke-width="2.8" />
<polygon points="312.16,252.50 317.26,247.40 322.36,252.50 317.26,257.60" fill="none" stroke="#000" stroke-width="2.2" stroke-linejoin="round"/>
<line x1="353.79" y1="209.60" x2="353.79" y2="230.50" stroke="#000" stroke-width="2.8" />
<line x1="349.39" y1="209.60" x2="358.19" y2="209.60" stroke="#000" stroke-width="2.8" />
<line x1="349.39" y1="230.50" x2="358.19" y2="230.50" stroke="#000" stroke-width="2.8" />
<polygon points="348.69,220.40 353.79,215.30 358.89,220.40 353.79,225.50" fill="none" stroke="#000" stroke-width="2.2" stroke-linejoin="round"/>
<line x1="390.31" y1="174.30" x2="390.31" y2="200.90" stroke="#000" stroke-width="2.8" />
<line x1="385.91" y1="174.30" x2="394.71" y2="174.30" stroke="#000" stroke-width="2.8" />
<line x1="385.91" y1="200.90" x2="394.71" y2="200.90" stroke="#000" stroke-width="2.8" />
<polygon points="385.21,187.80 390.31,182.70 395.41,187.80 390.31,192.90" fill="none" stroke="#000" stroke-width="2.2" stroke-linejoin="round"/>
<line x1="426.84" y1="138.50" x2="426.84" y2="171.60" stroke="#000" stroke-width="2.8" />
<line x1="422.44" y1="138.50" x2="431.24" y2="138.50" stroke="#000" stroke-width="2.8" />
<line x1="422.44" y1="171.60" x2="431.24" y2="171.60" stroke="#000" stroke-width="2.8" />
<polygon points="421.74,155.30 426.84,150.20 431.94,155.30 426.84,160.40" fill="none" stroke="#000" stroke-width="2.2" stroke-linejoin="round"/>
<line x1="463.37" y1="103.50" x2="463.37" y2="142.50" stroke="#000" stroke-width="2.8" />
<line x1="458.97" y1="103.50" x2="467.77" y2="103.50" stroke="#000" stroke-width="2.8" />
<line x1="458.97" y1="142.50" x2="467.77" y2="142.50" stroke="#000" stroke-width="2.8" />
<polygon points="458.27,123.00 463.37,117.90 468.47,123.00 463.37,128.10" fill="none" stroke="#000" stroke-width="2.2" stroke-linejoin="round"/>
<line x1="499.90" y1="67.00" x2="499.90" y2="113.40" stroke="#000" stroke-width="2.8" />
<line x1="495.50" y1="67.00" x2="504.30" y2="67.00" stroke="#000" stroke-width="2.8" />
<line x1="495.50" y1="113.40" x2="504.30" y2="113.40" stroke="#000" stroke-width="2.8" />
<polygon points="494.80,90.40 499.90,85.30 505.00,90.40 499.90,95.50" fill="none" stroke="#000" stroke-width="2.2" stroke-linejoin="round"/>
<rect x="516.57" y="110.45" width="10.50" height="10.50" fill="none" stroke="#9c04fc" stroke-width="1.2"/>
<line x1="521.82" y1="115.40" x2="521.82" y2="120.90" stroke="#9c04fc" stroke-width="1.7" />
<line x1="517.52" y1="120.00" x2="526.12" y2="120.00" stroke="#9c04fc" stroke-width="2.0" />
<rect x="589.63" y="103.75" width="10.50" height="10.50" fill="none" stroke="#9c04fc" stroke-width="1.2"/>
<line x1="594.88" y1="108.70" x2="594.88" y2="114.20" stroke="#9c04fc" stroke-width="1.7" />
<line x1="590.58" y1="113.30" x2="599.18" y2="113.30" stroke="#9c04fc" stroke-width="2.0" />
<rect x="662.68" y="96.25" width="10.50" height="10.50" fill="none" stroke="#9c04fc" stroke-width="1.2"/>
<line x1="667.93" y1="101.20" x2="667.93" y2="106.70" stroke="#9c04fc" stroke-width="1.7" />
<line x1="663.63" y1="105.80" x2="672.23" y2="105.80" stroke="#9c04fc" stroke-width="2.0" />
<line x1="179.90" y1="168.00" x2="320.60" y2="168.00" stroke="#f4087a" stroke-width="2.1" />
<line x1="179.90" y1="164.10" x2="179.90" y2="171.90" stroke="#f4087a" stroke-width="2.4" />
<line x1="320.60" y1="164.10" x2="320.60" y2="171.90" stroke="#f4087a" stroke-width="2.4" />
<line x1="269.10" y1="139.60" x2="269.10" y2="197.20" stroke="#f4087a" stroke-width="3.3" />
<line x1="265.00" y1="139.60" x2="273.20" y2="139.60" stroke="#f4087a" stroke-width="2.6" />
<line x1="265.00" y1="197.20" x2="273.20" y2="197.20" stroke="#f4087a" stroke-width="2.6" />
<line x1="263.40" y1="162.30" x2="274.80" y2="173.70" stroke="#f4087a" stroke-width="2.6" />
<line x1="263.40" y1="173.70" x2="274.80" y2="162.30" stroke="#f4087a" stroke-width="2.6" />
<line x1="416.90" y1="355.80" x2="524.00" y2="355.80" stroke="#000" stroke-width="3.1" />
<line x1="416.9" y1="384.1" x2="521.5" y2="384.1" stroke="#ff0000" stroke-width="3.1" stroke-dasharray="13.9 6.2 3.9 6.2"/>
<line x1="416.9" y1="412.5" x2="524" y2="412.5" stroke="#007fff" stroke-width="3.1" stroke-dasharray="13.9 13.0"/>
<text transform="translate(543.00,363.40) scale(1,1.0816)" font-size="28.6" fill="#000" font-family="Liberation Sans, sans-serif" style="font-kerning:none;white-space:pre" xml:space="preserve">C</text>
<text transform="translate(563.65,363.40) scale(1,1.0350)" font-size="28.6" fill="#000" font-family="Liberation Sans, sans-serif" style="font-kerning:none;white-space:pre" xml:space="preserve">omplete</text>
<text transform="translate(543.00,391.60) scale(1,1.0816)" font-size="28.6" fill="#000" font-family="Liberation Sans, sans-serif" style="font-kerning:none;white-space:pre" xml:space="preserve">R</text>
<text transform="translate(563.65,391.60) scale(1,1.0350)" font-size="28.6" fill="#000" font-family="Liberation Sans, sans-serif" style="font-kerning:none;white-space:pre" xml:space="preserve">adiatively </text>
<text transform="translate(690.83,391.60) scale(1,1.0816)" font-size="28.6" fill="#000" font-family="Liberation Sans, sans-serif" style="font-kerning:none;white-space:pre" xml:space="preserve">E</text>
<text transform="translate(709.91,391.60) scale(1,1.0350)" font-size="28.6" fill="#000" font-family="Liberation Sans, sans-serif" style="font-kerning:none;white-space:pre" xml:space="preserve">fficient</text>
<text transform="translate(543.00,419.50) scale(1,1.0816)" font-size="28.6" fill="#000" font-family="Liberation Sans, sans-serif" style="font-kerning:none;white-space:pre" xml:space="preserve">D</text>
<text transform="translate(563.65,419.50) scale(1,1.0350)" font-size="28.6" fill="#000" font-family="Liberation Sans, sans-serif" style="font-kerning:none;white-space:pre" xml:space="preserve">ilution-</text>
<text transform="translate(647.90,419.50) scale(1,1.0816)" font-size="28.6" fill="#000" font-family="Liberation Sans, sans-serif" style="font-kerning:none;white-space:pre" xml:space="preserve">L</text>
<text transform="translate(663.81,419.50) scale(1,1.0350)" font-size="28.6" fill="#000" font-family="Liberation Sans, sans-serif" style="font-kerning:none;white-space:pre" xml:space="preserve">imited</text>
<g clip-path="url(#c2)">
<polyline points="120.0,754.7 134.6,752.4 171.1,746.6 207.7,740.9 244.2,734.9 280.7,728.6 317.3,721.0 353.8,714.5 390.3,713.2 426.8,720.1 463.4,732.1 499.9,747.1 536.4,763.0 573.0,778.0 609.5,793.6 646.0,807.7 682.5,818.8 719.1,827.5 755.6,833.0 792.1,835.5 828.7,838.3" fill="none" stroke="#ff0000" stroke-width="3.1" stroke-dasharray="13.8 6.4 3.7 6.4" stroke-linejoin="round" />
<polyline points="120.0,576.1 134.6,582.1 171.1,597.2 207.7,612.6 244.2,628.6 280.7,645.3 317.3,662.5 353.8,680.3 390.3,697.8 426.8,714.2 463.4,730.3 499.9,746.3 536.4,762.0 573.0,777.0 609.5,792.6 646.0,806.7 682.5,817.7 719.1,826.5 755.6,832.1 792.1,834.4 828.7,837.3" fill="none" stroke="#000" stroke-width="3.1"  stroke-linejoin="round" />
<polyline points="120.0,852.9 134.6,842.6 171.1,813.5 207.7,791.9 244.2,772.7 280.7,756.0 317.3,740.2 353.8,722.1 390.3,706.6 426.8,707.4 463.4,721.4 499.9,736.6 536.4,751.5 573.0,767.0 609.5,782.4 646.0,796.9 682.5,810.6 719.1,821.5 755.6,829.3 792.1,833.6 828.7,836.5" fill="none" stroke="#007fff" stroke-width="3.1" stroke-dasharray="13.5 13.38" stroke-linejoin="round" />
</g>
<line x1="281.90" y1="559.20" x2="281.90" y2="662.00" stroke="#000" stroke-width="4.3" />
<line x1="277.50" y1="559.20" x2="286.30" y2="559.20" stroke="#000" stroke-width="4.3" />
<line x1="277.50" y1="662.00" x2="286.30" y2="662.00" stroke="#000" stroke-width="4.3" />
<polygon points="273.90,610.20 281.90,603.40 289.90,610.20 281.90,617.00" fill="#000"/>
<line x1="503.10" y1="675.00" x2="503.10" y2="726.00" stroke="#000" stroke-width="4.1" />
<line x1="498.90" y1="675.00" x2="507.30" y2="675.00" stroke="#000" stroke-width="4.1" />
<line x1="498.90" y1="726.00" x2="507.30" y2="726.00" stroke="#000" stroke-width="4.1" />
<polygon points="495.10,700.40 503.10,693.60 511.10,700.40 503.10,707.20" fill="#000"/>
<line x1="512.40" y1="703.30" x2="512.40" y2="754.40" stroke="#ff0000" stroke-width="4.0" />
<line x1="508.40" y1="703.30" x2="516.40" y2="703.30" stroke="#ff0000" stroke-width="4.0" />
<line x1="508.40" y1="754.40" x2="516.40" y2="754.40" stroke="#ff0000" stroke-width="4.0" />
<polygon points="512.40,718.50 514.91,726.24 523.05,726.24 516.47,731.02 518.98,738.76 512.40,733.98 505.82,738.76 508.33,731.02 501.75,726.24 509.89,726.24" fill="none" stroke="#ff0000" stroke-width="3.0" stroke-linejoin="round"/>
<line x1="566.70" y1="769.40" x2="566.70" y2="790.90" stroke="#ff0000" stroke-width="4.0" />
<line x1="562.70" y1="769.40" x2="570.70" y2="769.40" stroke="#ff0000" stroke-width="4.0" />
<line x1="562.70" y1="790.90" x2="570.70" y2="790.90" stroke="#ff0000" stroke-width="4.0" />
<polygon points="566.70,769.30 569.21,777.04 577.35,777.04 570.77,781.82 573.28,789.56 566.70,784.78 560.12,789.56 562.63,781.82 556.05,777.04 564.19,777.04" fill="none" stroke="#ff0000" stroke-width="3.0" stroke-linejoin="round"/>
<line x1="622.50" y1="792.00" x2="622.50" y2="811.00" stroke="#ff0000" stroke-width="4.0" />
<line x1="618.50" y1="792.00" x2="626.50" y2="792.00" stroke="#ff0000" stroke-width="4.0" />
<line x1="618.50" y1="811.00" x2="626.50" y2="811.00" stroke="#ff0000" stroke-width="4.0" />
<polygon points="622.50,790.10 625.01,797.84 633.15,797.84 626.57,802.62 629.08,810.36 622.50,805.58 615.92,810.36 618.43,802.62 611.85,797.84 619.99,797.84" fill="none" stroke="#ff0000" stroke-width="3.0" stroke-linejoin="round"/>
<line x1="678.60" y1="807.00" x2="678.60" y2="818.00" stroke="#ff0000" stroke-width="4.0" />
<line x1="674.60" y1="807.00" x2="682.60" y2="807.00" stroke="#ff0000" stroke-width="4.0" />
<line x1="674.60" y1="818.00" x2="682.60" y2="818.00" stroke="#ff0000" stroke-width="4.0" />
<polygon points="678.60,801.10 681.11,808.84 689.25,808.84 682.67,813.62 685.18,821.36 678.60,816.58 672.02,821.36 674.53,813.62 667.95,808.84 676.09,808.84" fill="none" stroke="#ff0000" stroke-width="3.0" stroke-linejoin="round"/>
<line x1="735.30" y1="827.00" x2="735.30" y2="836.50" stroke="#ff0000" stroke-width="4.0" />
<line x1="731.30" y1="827.00" x2="739.30" y2="827.00" stroke="#ff0000" stroke-width="4.0" />
<line x1="731.30" y1="836.50" x2="739.30" y2="836.50" stroke="#ff0000" stroke-width="4.0" />
<polygon points="735.30,820.60 737.81,828.34 745.95,828.34 739.37,833.12 741.88,840.86 735.30,836.08 728.72,840.86 731.23,833.12 724.65,828.34 732.79,828.34" fill="none" stroke="#ff0000" stroke-width="3.0" stroke-linejoin="round"/>
<line x1="792.00" y1="849.40" x2="792.00" y2="855.40" stroke="#ff0000" stroke-width="4.0" />
<line x1="788.00" y1="849.40" x2="796.00" y2="849.40" stroke="#ff0000" stroke-width="4.0" />
<line x1="788.00" y1="855.40" x2="796.00" y2="855.40" stroke="#ff0000" stroke-width="4.0" />
<polygon points="792.00,841.70 794.51,849.44 802.65,849.44 796.07,854.22 798.58,861.96 792.00,857.18 785.42,861.96 787.93,854.22 781.35,849.44 789.49,849.44" fill="none" stroke="#ff0000" stroke-width="3.0" stroke-linejoin="round"/>
<line x1="521.90" y1="749.60" x2="521.90" y2="764.90" stroke="#9c04fc" stroke-width="1.5" />
<line x1="517.60" y1="749.60" x2="526.20" y2="749.60" stroke="#9c04fc" stroke-width="1.5" />
<line x1="517.60" y1="764.90" x2="526.20" y2="764.90" stroke="#9c04fc" stroke-width="1.5" />
<rect x="516.70" y="752.10" width="10.40" height="10.40" fill="none" stroke="#9c04fc" stroke-width="2.7"/>
<line x1="595.10" y1="774.80" x2="595.10" y2="795.80" stroke="#9c04fc" stroke-width="1.5" />
<line x1="590.80" y1="774.80" x2="599.40" y2="774.80" stroke="#9c04fc" stroke-width="1.5" />
<line x1="590.80" y1="795.80" x2="599.40" y2="795.80" stroke="#9c04fc" stroke-width="1.5" />
<rect x="589.90" y="779.90" width="10.40" height="10.40" fill="none" stroke="#9c04fc" stroke-width="2.7"/>
<line x1="667.70" y1="769.90" x2="667.70" y2="800.90" stroke="#9c04fc" stroke-width="1.5" />
<line x1="663.40" y1="769.90" x2="672.00" y2="769.90" stroke="#9c04fc" stroke-width="1.5" />
<line x1="663.40" y1="800.90" x2="672.00" y2="800.90" stroke="#9c04fc" stroke-width="1.5" />
<rect x="662.50" y="780.10" width="10.40" height="10.40" fill="none" stroke="#9c04fc" stroke-width="2.7"/>
<line x1="180.30" y1="744.30" x2="320.40" y2="744.30" stroke="#f4087a" stroke-width="3.2" />
<line x1="180.30" y1="740.40" x2="180.30" y2="748.20" stroke="#f4087a" stroke-width="2.4" />
<line x1="320.40" y1="740.40" x2="320.40" y2="748.20" stroke="#f4087a" stroke-width="2.4" />
<line x1="269.10" y1="698.40" x2="269.10" y2="790.00" stroke="#f4087a" stroke-width="3.3" />
<line x1="265.00" y1="698.40" x2="273.20" y2="698.40" stroke="#f4087a" stroke-width="2.6" />
<line x1="265.00" y1="790.00" x2="273.20" y2="790.00" stroke="#f4087a" stroke-width="2.6" />
<line x1="263.40" y1="738.60" x2="274.80" y2="750.00" stroke="#f4087a" stroke-width="2.6" />
<line x1="263.40" y1="750.00" x2="274.80" y2="738.60" stroke="#f4087a" stroke-width="2.6" />
<polygon points="475.50,534.10 482.50,527.10 489.50,534.10 482.50,541.10" fill="none" stroke="#000" stroke-width="2.5" stroke-linejoin="round"/>
<polygon points="482.80,552.30 485.14,559.49 492.69,559.49 486.58,563.93 488.91,571.11 482.80,566.67 476.69,571.11 479.02,563.93 472.91,559.49 480.46,559.49" fill="none" stroke="#ff0000" stroke-width="2.6" stroke-linejoin="round"/>
<rect x="476.20" y="584.20" width="13.20" height="13.20" fill="none" stroke="#9c04fc" stroke-width="2.6"/>
<line x1="482.70" y1="618.40" x2="482.70" y2="611.50" stroke="#f4087a" stroke-width="2.8" />
<line x1="482.70" y1="618.40" x2="489.26" y2="616.27" stroke="#f4087a" stroke-width="2.8" />
<line x1="482.70" y1="618.40" x2="486.76" y2="623.98" stroke="#f4087a" stroke-width="2.8" />
<line x1="482.70" y1="618.40" x2="478.64" y2="623.98" stroke="#f4087a" stroke-width="2.8" />
<line x1="482.70" y1="618.40" x2="476.14" y2="616.27" stroke="#f4087a" stroke-width="2.8" />
<text transform="translate(501.20,541.00) scale(1,1.0659)" font-size="25.9" fill="#000" font-family="Liberation Sans, sans-serif" style="font-kerning:none;white-space:pre" xml:space="preserve">F</text>
<text transform="translate(517.02,541.00) scale(1,1.0200)" font-size="25.9" fill="#000" font-family="Liberation Sans, sans-serif" style="font-kerning:none;white-space:pre" xml:space="preserve">iore et al. (</text>
<text transform="translate(639.38,541.00) scale(1,1.0659)" font-size="25.9" fill="#000" font-family="Liberation Sans, sans-serif" style="font-kerning:none;white-space:pre" xml:space="preserve">X</text>
<text transform="translate(656.65,541.00) scale(1,1.0200)" font-size="25.9" fill="#000" font-family="Liberation Sans, sans-serif" style="font-kerning:none;white-space:pre" xml:space="preserve">-ray)</text>
<text transform="translate(501.20,569.30) scale(1,1.0659)" font-size="25.9" fill="#ff0000" font-family="Liberation Sans, sans-serif" style="font-kerning:none;white-space:pre" xml:space="preserve">F</text>
<text transform="translate(517.02,569.30) scale(1,1.0200)" font-size="25.9" fill="#ff0000" font-family="Liberation Sans, sans-serif" style="font-kerning:none;white-space:pre" xml:space="preserve">ine et al. (</text>
<text transform="translate(630.75,569.30) scale(1,1.0659)" font-size="25.9" fill="#ff0000" font-family="Liberation Sans, sans-serif" style="font-kerning:none;white-space:pre" xml:space="preserve">O</text>
<text transform="translate(650.90,569.30) scale(1,1.0200)" font-size="25.9" fill="#ff0000" font-family="Liberation Sans, sans-serif" style="font-kerning:none;white-space:pre" xml:space="preserve">ptical)</text>
<text transform="translate(501.20,597.70) scale(1,1.0659)" font-size="25.9" fill="#9c04fc" font-family="Liberation Sans, sans-serif" style="font-kerning:none;white-space:pre" xml:space="preserve">K</text>
<text transform="translate(518.48,597.70) scale(1,1.0200)" font-size="25.9" fill="#9c04fc" font-family="Liberation Sans, sans-serif" style="font-kerning:none;white-space:pre" xml:space="preserve">ollmeier et al. (</text>
<text transform="translate(688.32,597.70) scale(1,1.0659)" font-size="25.9" fill="#9c04fc" font-family="Liberation Sans, sans-serif" style="font-kerning:none;white-space:pre" xml:space="preserve">O</text>
<text transform="translate(708.46,597.70) scale(1,1.0200)" font-size="25.9" fill="#9c04fc" font-family="Liberation Sans, sans-serif" style="font-kerning:none;white-space:pre" xml:space="preserve">ptical)</text>
<text transform="translate(501.20,625.60) scale(1,1.0659)" font-size="25.9" fill="#f4087a" font-family="Liberation Sans, sans-serif" style="font-kerning:none;white-space:pre" xml:space="preserve">G</text>
<text transform="translate(521.35,625.60) scale(1,1.0200)" font-size="25.9" fill="#f4087a" font-family="Liberation Sans, sans-serif" style="font-kerning:none;white-space:pre" xml:space="preserve">reene </text>
<text transform="translate(594.78,625.60) scale(1,1.0659)" font-size="25.9" fill="#f4087a" font-family="Liberation Sans, sans-serif" style="font-kerning:none;white-space:pre" xml:space="preserve">&amp;</text>
<text transform="translate(612.06,625.60) scale(1,1.0200)" font-size="25.9" fill="#f4087a" font-family="Liberation Sans, sans-serif" style="font-kerning:none;white-space:pre" xml:space="preserve"> </text>
<text transform="translate(619.25,625.60) scale(1,1.0659)" font-size="25.9" fill="#f4087a" font-family="Liberation Sans, sans-serif" style="font-kerning:none;white-space:pre" xml:space="preserve">H</text>
<text transform="translate(637.96,625.60) scale(1,1.0200)" font-size="25.9" fill="#f4087a" font-family="Liberation Sans, sans-serif" style="font-kerning:none;white-space:pre" xml:space="preserve">o (</text>
<text transform="translate(668.18,625.60) scale(1,1.0659)" font-size="25.9" fill="#f4087a" font-family="Liberation Sans, sans-serif" style="font-kerning:none;white-space:pre" xml:space="preserve">B</text>
<text transform="translate(685.46,625.60) scale(1,1.0200)" font-size="25.9" fill="#f4087a" font-family="Liberation Sans, sans-serif" style="font-kerning:none;white-space:pre" xml:space="preserve">road-</text>
<text transform="translate(745.92,625.60) scale(1,1.0659)" font-size="25.9" fill="#f4087a" font-family="Liberation Sans, sans-serif" style="font-kerning:none;white-space:pre" xml:space="preserve">L</text>
<text transform="translate(760.33,625.60) scale(1,1.0200)" font-size="25.9" fill="#f4087a" font-family="Liberation Sans, sans-serif" style="font-kerning:none;white-space:pre" xml:space="preserve">ine)</text>
<g transform="translate(-20.1,-469.0)">
<path d="M27.1,730.5 C30.5,730.2 33.3,732.2 32.3,734.2 C31.2,736.4 27,737 21.9,737.9 C17,738.8 12,739.8 8.6,741.6 C5.8,743.1 5.9,745.6 8.8,746.6 L11.4,747.3" fill="none" stroke="#000" stroke-width="2.0" stroke-linecap="round"/>
<polygon points="17.3,737.9 32.6,745.2 32.6,748.5 15.9,740.6" fill="#000"/>
</g>
<text transform="translate(12.40,259.60) rotate(-90) scale(0.85,1.0)" font-size="36.3" text-anchor="start" fill="#000" font-family="Liberation Sans, sans-serif">(</text>
<text transform="translate(12.40,248.50) rotate(-90) scale(1.0,1.044)" font-size="36.3" text-anchor="start" fill="#000" font-family="Liberation Sans, sans-serif">L</text>
<text transform="translate(21.00,228.70) rotate(-90) scale(1.0,1.03)" font-size="22.0" text-anchor="start" fill="#000" font-family="Liberation Sans, sans-serif">bol</text>
<text transform="translate(12.40,198.30) rotate(-90) scale(0.85,1.0)" font-size="36.3" text-anchor="start" fill="#000" font-family="Liberation Sans, sans-serif">)</text>
<polyline points="-15.5,292.5 1.0,301.0 17.5,292.5" fill="none" stroke="#000" stroke-width="2.2"/>
<polyline points="-14.6,175.1 1.4,166.4 17.4,175.1" fill="none" stroke="#000" stroke-width="2.2"/>
<text transform="translate(33.10,841.20) rotate(-90) scale(0.97,1.0)" font-size="36.3" text-anchor="start" fill="#000" font-family="Liberation Sans, sans-serif">σ</text>
<text transform="translate(32.50,818.90) rotate(-90) scale(0.85,1.0)" font-size="36.3" text-anchor="start" fill="#000" font-family="Liberation Sans, sans-serif">(</text>
<text transform="translate(32.50,797.10) rotate(-90) scale(1.04,1.0)" font-size="36.3" text-anchor="start" fill="#000" font-family="Liberation Sans, sans-serif">log</text>
<g transform="translate(0,0)">
<path d="M27.1,730.5 C30.5,730.2 33.3,732.2 32.3,734.2 C31.2,736.4 27,737 21.9,737.9 C17,738.8 12,739.8 8.6,741.6 C5.8,743.1 5.9,745.6 8.8,746.6 L11.4,747.3" fill="none" stroke="#000" stroke-width="2.0" stroke-linecap="round"/>
<polygon points="17.3,737.9 32.6,745.2 32.6,748.5 15.9,740.6" fill="#000"/>
</g>
<line x1="6.00" y1="714.40" x2="40.00" y2="714.40" stroke="#000" stroke-width="2.0" />
<text transform="translate(32.60,700.30) rotate(-90) scale(1.0,1.044)" font-size="36.3" text-anchor="start" fill="#000" font-family="Liberation Sans, sans-serif">L</text>
<text transform="translate(40.90,680.30) rotate(-90) scale(1.0,1.03)" font-size="22.0" text-anchor="start" fill="#000" font-family="Liberation Sans, sans-serif">bol</text>
<text transform="translate(32.50,641.00) rotate(-90) scale(0.85,1.0)" font-size="36.3" text-anchor="start" fill="#000" font-family="Liberation Sans, sans-serif">)</text>
<text transform="translate(336.40,1028.60) scale(1.0,1.03)" font-size="36" text-anchor="start" fill="#000" font-family="Liberation Sans, sans-serif">log</text>
<text transform="translate(385.60,1028.60) scale(0.85,1.03)" font-size="36" text-anchor="start" fill="#000" font-family="Liberation Sans, sans-serif">(</text>
<text transform="translate(397.40,1028.60) scale(1.0,1.075)" font-size="36" text-anchor="start" fill="#000" font-family="Liberation Sans, sans-serif">L</text>
<text transform="translate(416.30,1037.20) scale(1.0,1.03)" font-size="22.0" text-anchor="start" fill="#000" font-family="Liberation Sans, sans-serif">bol</text>
<text transform="translate(447.40,1028.60) scale(0.85,1.03)" font-size="36" text-anchor="start" fill="#000" font-family="Liberation Sans, sans-serif">)</text>
<text transform="translate(478.00,1028.60) scale(1.0,1.03)" font-size="36" text-anchor="start" fill="#000" font-family="Liberation Sans, sans-serif">[erg s</text>
<text transform="translate(567.60,1011.60) scale(1.0,1.03)" font-size="22.0" text-anchor="start" fill="#000" font-family="Liberation Sans, sans-serif">-</text>
<path transform="translate(575.20,1011.60) scale(0.02270,-0.02270)" d="M271,0 V502 H101 V565 c94,0 172,32 189,138 h69 V0 z" fill="#000"/>
<text transform="translate(587.70,1028.60) scale(1.0,1.03)" font-size="36" text-anchor="start" fill="#000" font-family="Liberation Sans, sans-serif">]</text>
</svg>
</body></html>
